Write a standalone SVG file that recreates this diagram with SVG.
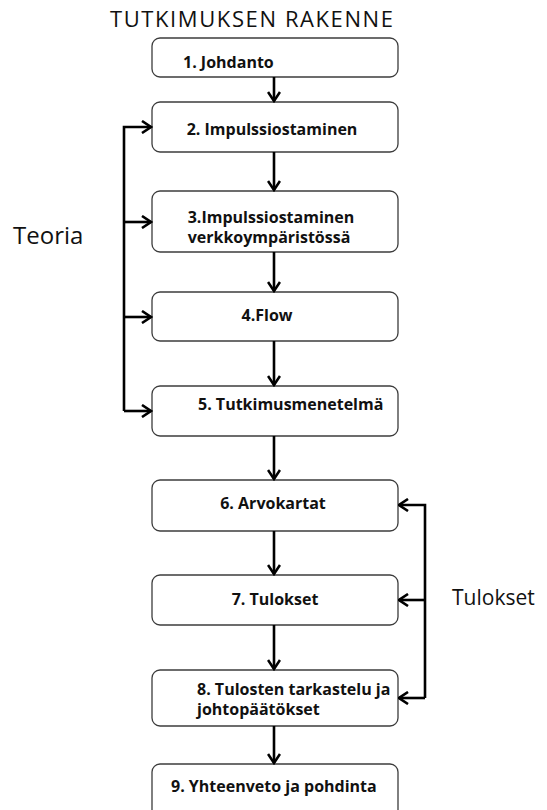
<svg xmlns="http://www.w3.org/2000/svg" width="547" height="810" viewBox="0 0 547 810">
  <style>
    .box { fill: #ffffff; stroke: #3c3c3c; stroke-width: 1.3; }
    .lbl { font-family: "Open Sans", "Liberation Sans", sans-serif; font-weight: bold; font-size: 16px; fill: #111; }
    .side { font-family: "Open Sans", "Liberation Sans", sans-serif; fill: #111; }
    .wire { fill: none; stroke: #000; stroke-width: 2.6; }
  </style>
  <defs>
    <marker id="chev" viewBox="0 0 12 14" refX="10.5" refY="7" markerWidth="12" markerHeight="14" markerUnits="userSpaceOnUse" orient="auto">
      <path d="M1.5,1 L10.5,7 L1.5,13" fill="none" stroke="#000" stroke-width="2.6"/>
    </marker>
  </defs>

  <rect width="547" height="810" fill="#ffffff"/>

  <text class="side" x="110" y="27" font-size="22" textLength="283">TUTKIMUKSEN RAKENNE</text>
  <text class="side" x="13" y="244" font-size="24">Teoria</text>
  <text class="side" x="452" y="605" font-size="21">Tulokset</text>

  <g id="n1"><rect class="box" x="152" y="38" width="246" height="39" rx="8"/><text class="lbl" x="183" y="68">1. Johdanto</text></g>
  <g id="n2"><rect class="box" x="152" y="102" width="246" height="50" rx="8"/><text class="lbl" x="272" y="135" text-anchor="middle">2. Impulssiostaminen</text></g>
  <g id="n3"><rect class="box" x="152" y="191" width="246" height="61" rx="8"/><text class="lbl" x="271" y="223" text-anchor="middle">3.Impulssiostaminen</text><text class="lbl" x="269" y="243" text-anchor="middle">verkkoympäristössä</text></g>
  <g id="n4"><rect class="box" x="152" y="292" width="246" height="49" rx="8"/><text class="lbl" x="267" y="321" text-anchor="middle">4.Flow</text></g>
  <g id="n5"><rect class="box" x="152" y="386" width="246" height="50" rx="8"/><text class="lbl" x="198" y="410">5. Tutkimusmenetelmä</text></g>
  <g id="n6"><rect class="box" x="152" y="480" width="246" height="51" rx="8"/><text class="lbl" x="273" y="509" text-anchor="middle">6. Arvokartat</text></g>
  <g id="n7"><rect class="box" x="152" y="575" width="246" height="50" rx="8"/><text class="lbl" x="275" y="605" text-anchor="middle">7. Tulokset</text></g>
  <g id="n8"><rect class="box" x="152" y="670" width="246" height="56" rx="8"/><text class="lbl" x="197" y="695">8. Tulosten tarkastelu ja</text><text class="lbl" x="197" y="715">johtopäätökset</text></g>
  <g id="n9"><rect class="box" x="152" y="764" width="246" height="60" rx="8"/><text class="lbl" x="171" y="792">9. Yhteenveto ja pohdinta</text></g>

  <g id="connectors" class="wire" marker-end="url(#chev)">
    <path d="M274,77 V101"/>
    <path d="M274,152 V190"/>
    <path d="M274,252 V291"/>
    <path d="M274,341 V385"/>
    <path d="M274,436 V479"/>
    <path d="M274,531 V574"/>
    <path d="M274,625 V669"/>
    <path d="M274,726 V763"/>
    <!-- theory bracket -->
    <path d="M124,411 V127 H151"/>
    <path d="M124,222 H151"/>
    <path d="M124,317 H151"/>
    <path d="M124,411 H151"/>
    <!-- results bracket -->
    <path d="M425,698 V505 H399"/>
    <path d="M425,600 H399"/>
    <path d="M425,698 H399"/>
  </g>
</svg>
